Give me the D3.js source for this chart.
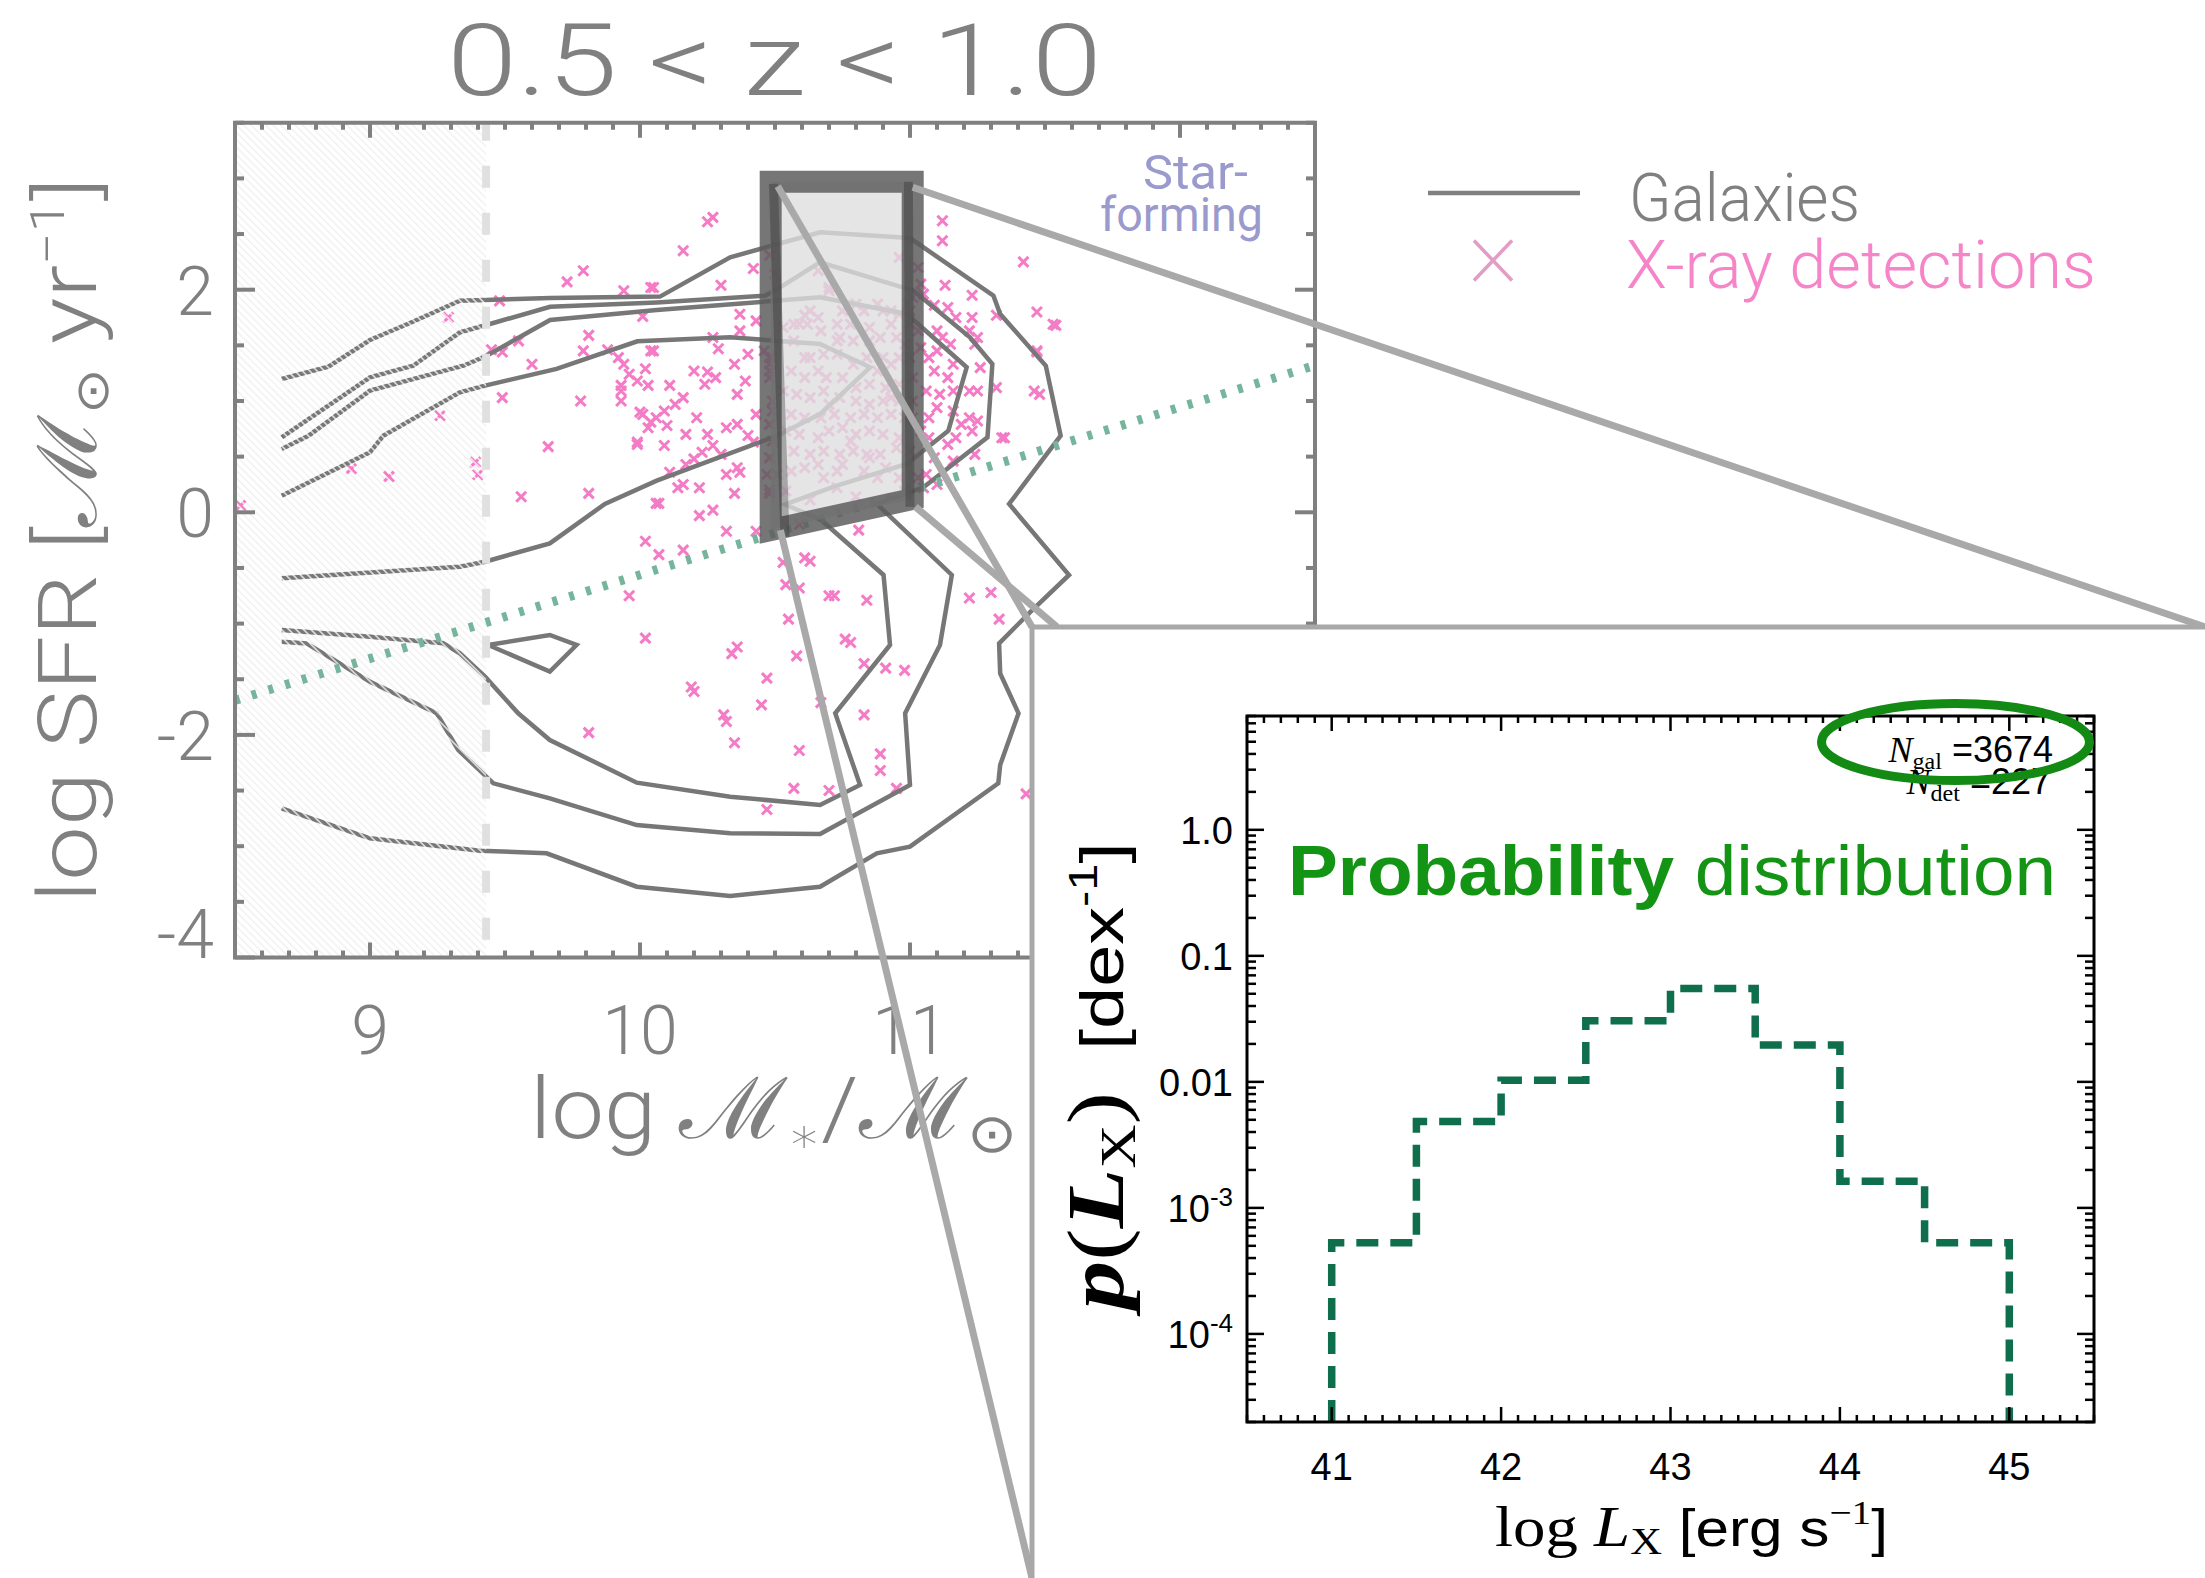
<!DOCTYPE html>
<html>
<head>
<meta charset="utf-8">
<script src="https://cdn.jsdelivr.net/npm/d3@7"></script>
<style>
  html, body { margin: 0; padding: 0; background: #fff; }
  svg { display: block; }
</style>
</head>
<body>
<svg id="fig" width="2205" height="1578"></svg>
<script>
// ---------------- Main panel: SFR vs stellar mass, 0.5 < z < 1.0 ----------------
const massRange = [8.5, 12.5];
const sfrRange = [-4, 3.5];
const massTicks = [9, 10, 11, 12];
const sfrTicks = [-4, -2, 0, 2];
const massLimit = 9.43;                       // mass completeness limit (hatched below)
const mainSequence = [[8.5, -1.69], [12.5, 1.32]];

// galaxy density contours (log M*, log SFR)
const contourOuter = [[8.673,1.198],[8.846,1.308],[9.0,1.548],[9.148,1.701],[9.333,1.901],[9.667,1.925],[10.074,1.938],[10.334,2.291],[10.667,2.516],[11.0,2.464],[11.309,1.946],[11.334,1.782],[11.503,1.317],[11.558,0.688],[11.367,0.075],[11.589,-0.563],[11.447,-0.893],[11.33,-1.177],[11.334,-1.447],[11.402,-1.806],[11.334,-2.27],[11.327,-2.435],[11.0,-3.004],[10.877,-3.064],[10.667,-3.364],[10.334,-3.447],[9.988,-3.364],[9.654,-3.064],[9.407,-3.04],[9.0,-2.929],[8.673,-2.66]];
const contourSecond = [[8.673,0.674],[9.0,1.213],[9.16,1.317],[9.333,1.617],[9.444,1.692],[9.667,1.847],[10.062,1.886],[10.463,1.946],[10.519,2.021],[10.667,2.246],[11.013,1.991],[11.222,1.572],[11.305,1.332],[11.287,0.673],[11.05,0.224],[10.877,0.075],[11.155,-0.563],[11.111,-1.192],[10.982,-1.806],[11.0,-2.45],[10.667,-2.89],[10.334,-2.884],[9.988,-2.81],[9.666,-2.57],[9.457,-2.435],[9.327,-2.136],[9.247,-1.806],[9.0,-1.522],[8.765,-1.178],[8.673,-1.163]];
const contourThird = [[8.673,0.569],[8.772,0.688],[9.0,1.093],[9.346,1.317],[9.432,1.407],[9.667,1.728],[10.062,1.817],[10.667,1.932],[10.988,1.782],[11.21,1.303],[11.142,0.733],[10.988,0.434],[10.729,0.239],[10.537,0.07],[10.671,-0.069],[10.902,-0.563],[10.926,-1.192],[10.723,-1.806],[10.815,-2.45],[10.667,-2.63],[10.334,-2.555],[9.988,-2.429],[9.666,-2.046],[9.549,-1.806],[9.426,-1.477],[9.333,-1.267],[9.271,-1.177],[9.0,-1.118],[8.673,-1.058]];
const contourCore = [[8.673,0.149],[9.0,0.539],[9.049,0.688],[9.333,1.078],[9.426,1.138],[9.691,1.288],[9.99,1.536],[10.334,1.572],[10.667,1.512],[10.852,1.303],[10.667,0.883],[10.507,0.688],[10.062,0.284],[9.87,0.075],[9.666,-0.279],[9.426,-0.444],[9.333,-0.489],[8.673,-0.593]];
const contourIsland = [[9.438,-1.192],[9.666,-1.102],[9.765,-1.192],[9.666,-1.432],[9.438,-1.192]];

// X-ray detected galaxies (log M*, log SFR)
const xrayLowMass = [[9.29,1.75],[9.26,0.87],[8.93,0.39],[9.07,0.32],[9.39,0.45],[9.40,0.34],[8.52,0.06],[9.48,1.90],[9.73,2.07],[9.79,2.17],[9.94,1.99],[10.04,2.02],[10.01,1.76],[9.55,1.54],[9.49,1.44],[9.45,1.46],[9.81,1.59],[9.79,1.45],[9.60,1.33],[9.88,1.46],[9.92,1.39],[9.94,1.33],[10.04,1.45],[9.96,1.24],[10.02,1.29],[9.99,1.18],[10.03,1.14],[9.93,1.14],[9.93,1.09],[9.93,1.00],[9.78,1.00],[9.49,1.03],[10.00,0.90],[10.04,0.81],[9.66,0.59],[9.99,0.61],[9.56,0.14],[9.81,0.17],[10.06,0.08],[10.02,-0.26],[10.06,0.85],[10.03,0.76]];
const xrayMidMass = [[10.25,2.61],[10.27,2.65],[10.16,2.35],[10.05,2.02],[10.30,2.04],[10.42,2.19],[10.48,2.31],[10.50,2.14],[10.37,1.78],[10.43,1.72],[10.37,1.63],[10.27,1.57],[10.29,1.47],[10.05,1.45],[10.40,1.42],[10.20,1.27],[10.25,1.26],[10.35,1.33],[10.28,1.21],[10.24,1.15],[10.39,1.18],[10.11,1.14],[10.36,1.06],[10.16,1.03],[10.13,0.97],[10.09,0.91],[10.01,0.88],[10.21,0.85],[10.10,0.78],[10.32,0.76],[10.36,0.79],[10.43,0.88],[10.17,0.70],[10.25,0.70],[10.40,0.69],[10.42,0.63],[10.27,0.60],[10.23,0.54],[10.30,0.52],[9.99,0.63],[10.09,0.60],[10.17,0.43],[10.20,0.48],[10.32,0.34],[10.37,0.36],[10.36,0.40],[10.11,0.36],[10.22,0.22],[10.16,0.25],[10.14,0.22],[10.35,0.17],[10.07,0.08],[10.22,-0.03],[10.27,0.02],[10.32,-0.17],[10.43,-0.17],[10.48,0.20],[10.47,0.34],[10.48,0.49],[10.48,1.33],[10.49,1.39],[10.46,1.45]];
const xrayBoxed = [[10.70,1.99],[10.70,2.02],[10.66,2.17],[10.61,1.77],[10.63,1.81],[10.59,1.69],[10.62,1.69],[10.66,1.75],[10.67,1.63],[10.73,1.69],[10.78,1.69],[10.83,1.81],[10.88,1.87],[10.93,1.81],[10.96,1.78],[10.99,1.87],[11.00,1.69],[10.93,1.69],[10.85,1.66],[10.74,1.57],[10.79,1.54],[10.85,1.54],[10.89,1.57],[10.95,1.57],[10.98,1.51],[10.53,1.66],[10.57,1.54],[10.63,1.39],[10.68,1.42],[10.73,1.42],[10.79,1.33],[10.84,1.39],[10.90,1.39],[10.96,1.39],[11.00,1.39],[10.56,1.27],[10.61,1.21],[10.66,1.27],[10.69,1.21],[10.75,1.21],[10.80,1.12],[10.85,1.15],[10.91,1.12],[10.96,1.15],[11.01,1.21],[10.53,1.09],[10.58,1.06],[10.63,1.03],[10.68,1.09],[10.74,1.03],[10.80,1.00],[10.85,0.97],[10.90,1.00],[10.96,1.00],[11.01,1.00],[10.56,0.88],[10.61,0.85],[10.67,0.85],[10.72,0.88],[10.78,0.85],[10.83,0.88],[10.88,0.85],[10.93,0.88],[10.98,0.85],[10.54,0.73],[10.59,0.70],[10.66,0.67],[10.70,0.73],[10.75,0.76],[10.80,0.70],[10.85,0.73],[10.90,0.70],[10.96,0.67],[10.57,0.55],[10.63,0.52],[10.68,0.55],[10.74,0.52],[10.79,0.55],[10.84,0.52],[10.89,0.52],[10.95,0.58],[10.56,0.37],[10.61,0.40],[10.68,0.31],[10.75,0.43],[10.83,0.37],[10.91,0.40],[10.96,0.31],[10.54,0.19],[10.63,0.11],[10.73,0.22],[10.80,0.14],[10.59,-0.11],[10.48,1.39],[10.48,1.27],[10.48,1.21],[10.49,1.00],[10.49,0.91],[10.48,0.79],[10.49,0.64],[10.48,0.49],[10.51,0.34],[10.48,0.17],[11.03,2.20],[11.04,2.05],[11.05,1.96],[11.01,1.93],[11.00,1.81],[11.03,1.63],[11.04,1.48],[11.01,0.85],[11.04,0.73],[11.00,0.55],[11.03,0.31],[10.98,0.19],[10.96,2.29],[10.75,1.81],[10.80,1.87],[10.90,1.81],[10.73,1.54],[10.93,1.33],[10.70,0.97],[10.78,0.64],[10.85,0.49],[10.73,0.37],[10.88,0.31],[10.66,0.43],[10.61,1.39],[10.57,1.69],[10.88,1.27],[10.93,1.03]];
const xrayHighMass = [[11.12,2.62],[11.12,2.44],[11.13,2.04],[11.23,1.95],[11.23,1.75],[11.32,1.77],[11.47,1.80],[11.53,1.69],[11.09,1.86],[11.14,1.84],[11.17,1.75],[11.10,1.63],[11.12,1.57],[11.15,1.51],[11.22,1.63],[11.25,1.57],[11.24,1.51],[11.07,1.39],[11.10,1.45],[11.16,1.33],[11.09,1.27],[11.14,1.21],[11.26,1.30],[11.32,1.12],[11.06,1.09],[11.11,1.06],[11.16,1.09],[11.22,1.09],[11.25,1.09],[11.10,0.94],[11.16,0.91],[11.22,0.85],[11.25,0.82],[11.07,0.85],[11.19,0.79],[11.23,0.73],[11.07,0.67],[11.14,0.61],[11.17,0.67],[11.24,0.52],[11.34,0.67],[11.47,1.45],[11.46,1.09],[11.48,1.06],[11.42,2.25],[11.09,0.49],[11.16,0.46],[11.06,0.34],[11.10,0.25],[11.05,0.22],[10.81,-0.16],[11.54,1.68],[11.47,1.44],[11.35,0.67]];
const xrayQuiescent = [[10.07,-0.38],[10.16,-0.34],[10.53,-0.45],[10.61,-0.41],[10.63,-0.44],[10.54,-0.65],[10.59,-0.68],[10.70,-0.75],[10.72,-0.75],[10.84,-0.79],[10.55,-0.96],[10.02,-1.13],[10.36,-1.21],[10.34,-1.27],[10.76,-1.14],[10.78,-1.17],[10.58,-1.29],[10.83,-1.36],[10.91,-1.40],[10.98,-1.42],[10.47,-1.49],[10.19,-1.57],[10.20,-1.61],[10.45,-1.73],[10.67,-1.71],[10.31,-1.82],[10.32,-1.88],[10.83,-1.82],[10.35,-2.07],[10.59,-2.14],[10.89,-2.17],[10.89,-2.32],[10.57,-2.48],[10.70,-2.50],[10.95,-2.48],[10.47,-2.67],[11.22,-0.77],[11.30,-0.72],[11.33,-0.96],[11.43,-2.53],[9.96,-0.75],[9.81,-1.98]];

// selected mass/SFR bin shown in the inset
const zoomBox = [[10.484, 2.97], [11.01, 2.97], [11.01, 0.12], [10.484, -0.16]];
const zoomBoxEdges = [[[10.494, 2.95], [10.537, -0.22]], [[10.994, 2.97], [11.0, 0.05]]];
const zoomAnchors = [[10.51, 2.93], [11.01, 2.92], [10.52, -0.16], [11.02, 0.05]];

// ---------------- Inset: p(L_X) for the selected bin ----------------
const lxRange = [40.5, 45.5];
const probRange = [2e-5, 8];
const lxEdges = [41, 41.5, 42, 42.5, 43, 43.5, 44, 44.5, 45];
const lxProb = [5.3e-4, 4.85e-3, 1.03e-2, 3.05e-2, 5.5e-2, 1.96e-2, 1.63e-3, 5.3e-4];
const lxTicks = [41, 42, 43, 44, 45];
const probTicks = [1, 0.1, 0.01, 1e-3, 1e-4];
const probTickLabels = [["1.0"], ["0.1"], ["0.01"], ["10", "-3"], ["10", "-4"]];
const nGal = 3674, nDet = 227;

// ---------------- layout ----------------
const MAIN = {left: 235, right: 1315, top: 122.75, bottom: 957.5};
const INSET = {left: 1032, top: 627, right: 2205, bottom: 1578};
const HIST = {left: 1247, right: 2094, top: 716, bottom: 1422};
const GREY = "#808080";
const FONT = "Roboto, 'Liberation Sans', Arial, sans-serif";
const SANS = "'Liberation Sans', Arial, sans-serif";
const SERIF = "'Liberation Serif', 'Times New Roman', serif";

const svg = d3.select("#fig");
const mx = d3.scaleLinear().domain(massRange).range([MAIN.left, MAIN.right]);
const my = d3.scaleLinear().domain(sfrRange).range([MAIN.bottom, MAIN.top]);

const defs = svg.append("defs");
defs.append("clipPath").attr("id", "mainClip").append("rect")
  .attr("x", MAIN.left).attr("y", MAIN.top)
  .attr("width", MAIN.right - MAIN.left).attr("height", MAIN.bottom - MAIN.top);
const hb = defs.append("pattern").attr("id", "hatchBg").attr("patternUnits", "userSpaceOnUse")
  .attr("width", 5.2).attr("height", 10).attr("patternTransform", "rotate(-45)");
hb.append("rect").attr("x", 0).attr("y", 0).attr("width", 1.3).attr("height", 10).attr("fill", "#f0f0f0");
const hf = defs.append("pattern").attr("id", "hatchFg").attr("patternUnits", "userSpaceOnUse")
  .attr("width", 5.2).attr("height", 10).attr("patternTransform", "rotate(-45)");
hf.append("rect").attr("x", 2.9).attr("y", 0).attr("width", 1.2).attr("height", 10).attr("fill", "#ffffff");

const plot = svg.append("g").attr("clip-path", "url(#mainClip)");
const hatchX0 = mx(massRange[0]), hatchX1 = mx(massLimit);

// hatched incompleteness region, background layer
plot.append("rect").attr("x", hatchX0).attr("y", MAIN.top)
  .attr("width", hatchX1 - hatchX0).attr("height", MAIN.bottom - MAIN.top)
  .attr("fill", "url(#hatchBg)");

// X-ray detections
const allXray = [].concat(xrayLowMass, xrayMidMass, xrayBoxed, xrayHighMass, xrayQuiescent);
plot.append("g").selectAll("path").data(allXray).join("path")
  .attr("transform", d => `translate(${mx(d[0])},${my(d[1])})`)
  .attr("d", "M-5,-5L5,5M-5,5L5,-5")
  .attr("stroke", "#f47cc6").attr("stroke-width", 3).attr("fill", "none");

// galaxy contours
const line = d3.line().x(d => mx(d[0])).y(d => my(d[1]));
plot.append("g").selectAll("path")
  .data([contourOuter, contourSecond, contourThird, contourCore, contourIsland]).join("path")
  .attr("d", line).attr("fill", "none").attr("stroke", "#777").attr("stroke-width", 4.5)
  .attr("stroke-linejoin", "miter").attr("stroke-miterlimit", 3);

// hatched region, foreground layer (texture over the contours)
plot.append("rect").attr("x", hatchX0).attr("y", MAIN.top)
  .attr("width", hatchX1 - hatchX0).attr("height", MAIN.bottom - MAIN.top)
  .attr("fill", "url(#hatchFg)");

// mass limit
plot.append("line").attr("x1", hatchX1).attr("x2", hatchX1)
  .attr("y1", MAIN.top).attr("y2", MAIN.bottom)
  .attr("stroke", "#e0e0e0").attr("stroke-width", 8).attr("stroke-dasharray", "22,25")
  .attr("stroke-dashoffset", 4);

// star-forming main sequence
plot.append("path").attr("d", line(mainSequence)).attr("fill", "none")
  .attr("stroke", "#76b59b").attr("stroke-width", 9).attr("stroke-dasharray", "5,12.5");

// highlighted bin
plot.append("path").attr("d", line(zoomBox) + "Z")
  .attr("fill", "rgba(222,222,222,0.8)")
  .attr("stroke", "rgba(92,92,92,0.84)").attr("stroke-width", 22).attr("stroke-linejoin", "miter");
plot.append("g").selectAll("path").data(zoomBoxEdges).join("path")
  .attr("d", line).attr("stroke", "rgba(40,40,40,0.33)").attr("stroke-width", 9).attr("fill", "none");

// "Star-forming" label
const sf = svg.append("g").attr("font-family", FONT).attr("fill", "#9a9acd").attr("font-size", 48);
sf.append("text").attr("x", 1143).attr("y", 189).attr("textLength", 105)
  .attr("lengthAdjust", "spacingAndGlyphs").text("Star-");
sf.append("text").attr("x", 1100).attr("y", 231).attr("textLength", 163)
  .attr("lengthAdjust", "spacingAndGlyphs").text("forming");

// axes frame and ticks
const axes = svg.append("g").attr("stroke", GREY);
axes.append("rect").attr("x", MAIN.left).attr("y", MAIN.top)
  .attr("width", MAIN.right - MAIN.left).attr("height", MAIN.bottom - MAIN.top)
  .attr("fill", "none").attr("stroke-width", 4);
const xMinor = d3.range(Math.round(massRange[0] * 10), Math.round(massRange[1] * 10) + 1).map(v => v / 10);
xMinor.forEach(v => {
  const major = Math.abs(v - Math.round(v)) < 1e-6;
  const len = major ? 15 : 7;
  const X = mx(v);
  axes.append("line").attr("x1", X).attr("x2", X).attr("y1", MAIN.bottom).attr("y2", MAIN.bottom - len).attr("stroke-width", 4);
  axes.append("line").attr("x1", X).attr("x2", X).attr("y1", MAIN.top).attr("y2", MAIN.top + len).attr("stroke-width", 4);
});
const yMinor = d3.range(sfrRange[0] * 2, sfrRange[1] * 2 + 1).map(v => v / 2);
yMinor.forEach(v => {
  const major = sfrTicks.includes(v);
  const len = major ? 20 : 9;
  const Y = my(v);
  axes.append("line").attr("x1", MAIN.left).attr("x2", MAIN.left + len).attr("y1", Y).attr("y2", Y).attr("stroke-width", 4);
  axes.append("line").attr("x1", MAIN.right).attr("x2", MAIN.right - len).attr("y1", Y).attr("y2", Y).attr("stroke-width", 4);
});

// tick labels
const lab = svg.append("g").attr("font-family", FONT).attr("font-weight", 300).attr("fill", GREY);
massTicks.forEach(v => {
  lab.append("text").attr("x", mx(v)).attr("y", 1054).attr("text-anchor", "middle")
    .attr("font-size", 68).text(v);
});
sfrTicks.forEach(v => {
  const Y = Math.min(my(v), MAIN.bottom - 25);
  lab.append("text").attr("x", 214).attr("y", Y + 25).attr("text-anchor", "end")
    .attr("font-size", 68).text(v);
});

// title
lab.append("text").attr("x", 447).attr("y", 95).attr("font-size", 100)
  .attr("textLength", 655).attr("lengthAdjust", "spacingAndGlyphs").text("0.5 < z < 1.0");

// y axis title
const yt = lab.append("text").attr("transform", "translate(96,540) rotate(-90)")
  .attr("text-anchor", "middle").attr("font-size", 82)
  .attr("textLength", 725).attr("lengthAdjust", "spacingAndGlyphs");
yt.append("tspan").text("log SFR [");
yt.append("tspan").attr("font-family", "'DejaVu Sans', sans-serif").text("ℳ");
yt.append("tspan").attr("font-family", "'DejaVu Sans', sans-serif").attr("font-size", 46).attr("dy", 12).text("⊙");
yt.append("tspan").attr("dy", -12).text(" yr");
yt.append("tspan").attr("font-size", 48).attr("dy", -32).text("−1");
yt.append("tspan").attr("dy", 32).text("]");

// x axis title
const xt = lab.append("text").attr("x", 530).attr("y", 1138).attr("font-size", 85)
  .attr("textLength", 487).attr("lengthAdjust", "spacingAndGlyphs");
xt.append("tspan").text("log ");
xt.append("tspan").attr("font-family", "'DejaVu Sans', sans-serif").text("ℳ");
xt.append("tspan").attr("font-family", "'DejaVu Sans', sans-serif").attr("font-size", 48).attr("dy", 14).text("∗");
xt.append("tspan").attr("dy", -14).text("/");
xt.append("tspan").attr("font-family", "'DejaVu Sans', sans-serif").text("ℳ");
xt.append("tspan").attr("font-family", "'DejaVu Sans', sans-serif").attr("font-size", 54).attr("dy", 14).text("⊙");

// legend
const leg = svg.append("g").attr("font-family", FONT).attr("font-weight", 300);
leg.append("line").attr("x1", 1428).attr("x2", 1580).attr("y1", 193).attr("y2", 193)
  .attr("stroke", GREY).attr("stroke-width", 4.5);
leg.append("text").attr("x", 1629).attr("y", 221).attr("font-size", 66).attr("fill", GREY)
  .attr("textLength", 231).attr("lengthAdjust", "spacingAndGlyphs").text("Galaxies");
leg.append("path").attr("transform", "translate(1493,260.5)").attr("d", "M-19,-20L19,20M-19,20L19,-20")
  .attr("stroke", "#e39cc4").attr("stroke-width", 3.5).attr("fill", "none");
leg.append("text").attr("x", 1626).attr("y", 288).attr("font-size", 66).attr("fill", "#f584c8")
  .attr("textLength", 470).attr("lengthAdjust", "spacingAndGlyphs").text("X-ray detections");

// connector lines from the highlighted bin to the inset
const insetTargets = [[INSET.left, INSET.top], [INSET.right, INSET.top], [INSET.left, INSET.bottom], [INSET.left + 25, INSET.top]];
svg.append("g").selectAll("line").data(zoomAnchors).join("line")
  .attr("x1", d => mx(d[0])).attr("y1", d => my(d[1]))
  .attr("x2", (d, i) => insetTargets[i][0]).attr("y2", (d, i) => insetTargets[i][1])
  .attr("stroke", "#a9a9a9").attr("stroke-width", 7);

// ---------------- inset ----------------
svg.append("rect").attr("x", INSET.left).attr("y", INSET.top)
  .attr("width", INSET.right - INSET.left + 20).attr("height", INSET.bottom - INSET.top + 20)
  .attr("fill", "#fff").attr("stroke", "#a8a8a8").attr("stroke-width", 5);

const hx = d3.scaleLinear().domain(lxRange).range([HIST.left, HIST.right]);
const hy = d3.scaleLog().domain(probRange).range([HIST.bottom, HIST.top]);

// step histogram of p(L_X)
const steps = [[lxEdges[0], probRange[0]]];
lxProb.forEach((p, i) => { steps.push([lxEdges[i], p]); steps.push([lxEdges[i + 1], p]); });
steps.push([lxEdges[lxEdges.length - 1], probRange[0]]);
svg.append("path").attr("d", d3.line().x(d => hx(d[0])).y(d => hy(d[1]))(steps))
  .attr("fill", "none").attr("stroke", "#0f6e4c").attr("stroke-width", 7.5)
  .attr("stroke-dasharray", "22,12");

// frame and ticks
const hax = svg.append("g").attr("stroke", "#000");
hax.append("rect").attr("x", HIST.left).attr("y", HIST.top)
  .attr("width", HIST.right - HIST.left).attr("height", HIST.bottom - HIST.top)
  .attr("fill", "none").attr("stroke-width", 3);
d3.range(Math.round(lxRange[0] * 10), Math.round(lxRange[1] * 10) + 1).map(v => v / 10).forEach(v => {
  const major = Math.abs(v - Math.round(v)) < 1e-6;
  const len = major ? 15 : 7;
  const X = hx(v);
  hax.append("line").attr("x1", X).attr("x2", X).attr("y1", HIST.bottom).attr("y2", HIST.bottom - len).attr("stroke-width", 2.5);
  hax.append("line").attr("x1", X).attr("x2", X).attr("y1", HIST.top).attr("y2", HIST.top + len).attr("stroke-width", 2.5);
});
d3.range(-5, 1).forEach(k => {
  d3.range(1, 10).forEach(m => {
    const v = m * Math.pow(10, k);
    if (v < probRange[0] || v > probRange[1]) return;
    const len = m === 1 ? 17 : 9;
    const Y = hy(v);
    hax.append("line").attr("x1", HIST.left).attr("x2", HIST.left + len).attr("y1", Y).attr("y2", Y).attr("stroke-width", 2.5);
    hax.append("line").attr("x1", HIST.right).attr("x2", HIST.right - len).attr("y1", Y).attr("y2", Y).attr("stroke-width", 2.5);
  });
});

const hl = svg.append("g").attr("font-family", SANS).attr("fill", "#000");
lxTicks.forEach(v => {
  hl.append("text").attr("x", hx(v)).attr("y", 1480).attr("text-anchor", "middle").attr("font-size", 38).text(v);
});
probTicks.forEach((v, i) => {
  const t = hl.append("text").attr("x", 1233).attr("y", hy(v) + 14).attr("text-anchor", "end").attr("font-size", 38);
  t.append("tspan").text(probTickLabels[i][0]);
  if (probTickLabels[i][1]) t.append("tspan").attr("font-size", 26).attr("dy", -16).text(probTickLabels[i][1]);
});

// inset axis titles
const hxt = hl.append("text").attr("x", 1495).attr("y", 1546).attr("font-size", 52)
  .attr("textLength", 393).attr("lengthAdjust", "spacingAndGlyphs");
hxt.append("tspan").attr("font-family", SERIF).attr("font-size", 56).text("log ");
hxt.append("tspan").attr("font-family", SERIF).attr("font-style", "italic").attr("font-size", 56).text("L");
hxt.append("tspan").attr("font-family", SERIF).attr("font-size", 38).attr("dy", 8).text("X");
hxt.append("tspan").attr("dy", -8).text(" [erg s");
hxt.append("tspan").attr("font-family", SERIF).attr("font-size", 34).attr("dy", -22).text("−1");
hxt.append("tspan").attr("dy", 22).text("]");

const hyt = hl.append("text").attr("transform", "translate(1123,1076) rotate(-90)")
  .attr("text-anchor", "middle").attr("font-size", 62)
  .attr("textLength", 467).attr("lengthAdjust", "spacingAndGlyphs");
hyt.append("tspan").attr("font-family", SERIF).attr("font-style", "italic").attr("font-weight", "bold").attr("font-size", 80).text("p");
hyt.append("tspan").attr("font-family", SERIF).attr("font-size", 80).text("(");
hyt.append("tspan").attr("font-family", SERIF).attr("font-style", "italic").attr("font-weight", "bold").attr("font-size", 80).text("L");
hyt.append("tspan").attr("font-family", SERIF).attr("font-size", 50).attr("dy", 12).text("X");
hyt.append("tspan").attr("font-family", SERIF).attr("font-size", 80).attr("dy", -12).text(")");
hyt.append("tspan").text("\u00a0\u00a0[dex");
hyt.append("tspan").attr("font-size", 40).attr("dy", -26).text("-1");
hyt.append("tspan").attr("dy", 26).text("]");

// sample sizes
const nt1 = hl.append("text").attr("x", 2053).attr("y", 762).attr("text-anchor", "end").attr("font-size", 36);
nt1.append("tspan").attr("font-family", SERIF).attr("font-style", "italic").text("N");
nt1.append("tspan").attr("font-family", SERIF).attr("font-size", 24).attr("dy", 7).text("gal");
nt1.append("tspan").attr("dy", -7).text(" =" + nGal);
const nt2 = hl.append("text").attr("x", 2051).attr("y", 794).attr("text-anchor", "end").attr("font-size", 36);
nt2.append("tspan").attr("font-family", SERIF).attr("font-style", "italic").text("N");
nt2.append("tspan").attr("font-family", SERIF).attr("font-size", 24).attr("dy", 7).text("det");
nt2.append("tspan").attr("dy", -7).text(" =" + nDet);

svg.append("ellipse").attr("cx", 1955.5).attr("cy", 742).attr("rx", 134).attr("ry", 38.5)
  .attr("fill", "none").attr("stroke", "#138a13").attr("stroke-width", 9);

// "Probability distribution"
const pd = svg.append("text").attr("x", 1288).attr("y", 895).attr("font-family", SANS)
  .attr("font-size", 70).attr("fill", "#149414")
  .attr("textLength", 768).attr("lengthAdjust", "spacingAndGlyphs");
pd.append("tspan").attr("font-weight", "bold").text("Probability");
pd.append("tspan").text(" distribution");
</script>
</body>
</html>
